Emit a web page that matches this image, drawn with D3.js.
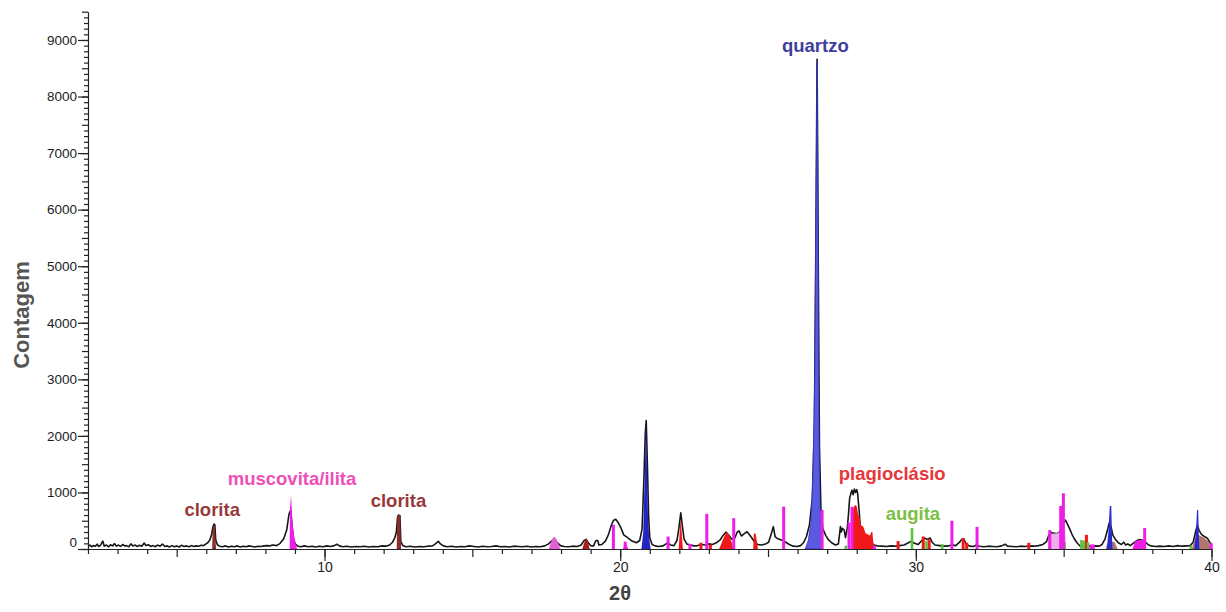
<!DOCTYPE html>
<html>
<head>
<meta charset="utf-8">
<script src="https://cdn.jsdelivr.net/npm/d3@7"></script>
<style>
  html, body { margin: 0; padding: 0; background: #fff; }
  svg { display: block; font-family: "Liberation Sans", Arial, Helvetica, sans-serif; }
</style>
</head>
<body>
<svg id="chart" width="1226" height="612"></svg>
<script>
// Measured diffractogram: [2θ (deg), counts]
const scanPattern = [
  [2.00,45],[2.07,70],[2.12,40],[2.18,60],[2.25,50],[2.31,85],[2.36,45],[2.42,65],[2.50,140],[2.55,50],
  [2.62,70],[2.70,40],[2.76,75],[2.83,55],[2.90,95],[2.96,50],[3.03,70],[3.10,45],[3.17,80],[3.24,55],
  [3.30,60],[3.38,40],[3.45,90],[3.52,55],[3.60,70],[3.66,45],[3.74,65],[3.82,50],[3.90,105],[3.96,60],
  [4.04,75],[4.12,45],[4.20,60],[4.28,40],[4.35,70],[4.44,50],[4.52,85],[4.60,45],[4.68,55],[4.75,35],
  [4.84,60],[4.92,40],[5.00,55],[5.08,35],[5.16,65],[5.25,45],[5.33,55],[5.42,40],[5.50,60],[5.58,45],
  [5.66,55],[5.74,50],[5.82,65],[5.90,60],[5.98,85],[6.05,110],[6.12,160],[6.18,250],[6.22,380],[6.26,440],
  [6.29,430],[6.32,160],[6.38,70],[6.45,50],[6.55,40],[6.65,55],[6.75,35],[6.85,50],[6.95,40],[7.05,55],
  [7.15,35],[7.25,50],[7.35,40],[7.45,55],[7.55,45],[7.65,35],[7.75,50],[7.85,45],[7.95,55],[8.05,60],
  [8.15,55],[8.25,70],[8.38,60],[8.50,100],[8.62,180],[8.72,335],[8.80,620],[8.86,690],[8.90,420],[8.95,170],
  [9.02,80],[9.10,50],[9.20,40],[9.32,55],[9.45,40],[9.58,50],[9.70,35],[9.82,50],[9.95,40],[10.08,55],
  [10.20,45],[10.33,60],[10.42,85],[10.50,55],[10.62,40],[10.75,50],[10.90,35],[11.05,45],[11.20,40],[11.35,50],
  [11.50,35],[11.65,45],[11.80,40],[11.95,55],[12.08,50],[12.20,70],[12.30,120],[12.38,200],[12.43,300],[12.47,560],
  [12.50,600],[12.55,590],[12.58,130],[12.65,60],[12.75,40],[12.90,50],[13.05,35],[13.20,45],[13.35,40],[13.50,50],
  [13.65,55],[13.75,90],[13.85,135],[13.92,90],[14.02,55],[14.15,40],[14.30,50],[14.45,35],[14.60,45],[14.75,40],
  [14.90,55],[15.05,45],[15.20,35],[15.35,50],[15.50,40],[15.65,45],[15.80,55],[15.95,40],[16.10,45],[16.25,35],
  [16.40,50],[16.55,45],[16.70,40],[16.85,50],[17.00,35],[17.15,45],[17.30,40],[17.45,55],[17.58,90],[17.70,150],
  [17.78,160],[17.88,110],[17.98,60],[18.10,45],[18.25,40],[18.40,50],[18.55,45],[18.68,70],[18.78,150],[18.85,170],
  [18.92,110],[19.00,60],[19.10,55],[19.18,150],[19.24,150],[19.28,70],[19.38,80],[19.50,140],[19.60,250],[19.70,420],
  [19.78,510],[19.85,525],[19.93,470],[20.02,380],[20.12,250],[20.25,200],[20.40,140],[20.55,110],[20.66,150],[20.74,350],
  [20.80,1200],[20.85,2050],[20.88,2270],[20.92,1500],[20.96,600],[21.00,200],[21.08,80],[21.18,55],[21.30,45],[21.45,55],
  [21.55,90],[21.62,110],[21.70,70],[21.82,60],[21.92,150],[21.98,350],[22.05,640],[22.10,420],[22.16,180],[22.25,90],
  [22.38,70],[22.50,55],[22.62,60],[22.75,80],[22.88,70],[23.00,90],[23.12,80],[23.25,110],[23.38,160],[23.48,240],
  [23.58,300],[23.68,240],[23.78,170],[23.88,200],[23.96,300],[24.02,320],[24.10,230],[24.15,250],[24.22,280],[24.29,305],
  [24.36,260],[24.46,190],[24.55,120],[24.65,80],[24.78,70],[24.92,90],[25.02,120],[25.10,250],[25.18,395],[25.24,220],
  [25.30,190],[25.40,170],[25.50,150],[25.60,120],[25.72,80],[25.85,50],[25.98,45],[26.10,60],[26.20,110],[26.30,220],
  [26.40,420],[26.50,900],[26.57,2200],[26.62,5500],[26.66,8660],[26.70,5000],[26.74,1800],[26.79,700],[26.85,365],[26.95,240],
  [27.05,160],[27.15,110],[27.28,70],[27.38,90],[27.45,395],[27.48,300],[27.52,365],[27.58,330],[27.62,200],[27.68,365],
  [27.72,600],[27.76,895],[27.80,980],[27.84,1040],[27.88,960],[27.92,1060],[27.96,1000],[28.00,1050],[28.03,985],[28.08,690],
  [28.12,395],[28.20,300],[28.30,230],[28.42,160],[28.58,70],[28.70,55],[28.85,50],[29.00,45],[29.15,55],[29.30,50],
  [29.45,60],[29.60,70],[29.75,110],[29.85,140],[29.95,100],[30.08,80],[30.20,150],[30.30,190],[30.40,170],[30.48,195],
  [30.55,120],[30.65,70],[30.80,60],[30.95,50],[31.10,55],[31.22,75],[31.35,60],[31.48,120],[31.55,170],[31.62,180],
  [31.70,90],[31.82,50],[31.95,45],[32.05,70],[32.15,50],[32.30,40],[32.45,50],[32.60,45],[32.75,40],[32.90,55],
  [33.02,85],[33.10,50],[33.25,45],[33.40,40],[33.55,50],[33.70,45],[33.85,55],[34.00,50],[34.15,60],[34.30,80],
  [34.42,130],[34.50,250],[34.58,290],[34.68,280],[34.78,270],[34.86,300],[34.94,380],[35.00,470],[35.06,510],[35.12,450],
  [35.20,360],[35.28,260],[35.35,190],[35.45,110],[35.57,45],[35.70,50],[35.82,60],[35.95,45],[36.08,55],[36.20,50],
  [36.30,80],[36.40,180],[36.48,330],[36.54,460],[36.60,400],[36.66,250],[36.75,170],[36.85,110],[36.95,80],[37.03,120],
  [37.10,70],[37.17,90],[37.25,60],[37.35,100],[37.45,140],[37.55,165],[37.65,160],[37.75,130],[37.85,80],[37.95,55],
  [38.10,45],[38.25,50],[38.40,45],[38.55,55],[38.70,45],[38.85,60],[39.00,50],[39.15,55],[39.28,60],[39.38,120],
  [39.46,300],[39.52,420],[39.58,330],[39.66,260],[39.76,220],[39.86,190],[39.95,110],[40.00,90]
];

// Quartz reflections (filled profiles): [2θ, counts]
const quartzProfiles = [
  [[20.72,0],[20.78,300],[20.83,1300],[20.87,2250],[20.90,1600],[20.94,600],[20.98,200],[21.03,0]],
  [[26.26,0],[26.36,150],[26.45,450],[26.52,1300],[26.58,3000],[26.63,6500],[26.66,8620],[26.69,6000],[26.71,3000],[26.74,1300],[26.78,400],[26.83,0]],
  [[36.46,0],[36.52,350],[36.56,760],[36.61,760],[36.63,300],[36.65,0]],
  [[39.42,0],[39.48,350],[39.51,690],[39.55,690],[39.57,250],[39.59,0]]
];
const quartzShade = ["#2424c4", "#5a5ae0", "#2a2ad2", "#2a2ad2"];

// Chlorite reflections
const chloriteProfiles = [
  [[6.20,0],[6.22,370],[6.26,420],[6.29,420],[6.33,0]],
  [[12.44,0],[12.46,560],[12.50,600],[12.56,600],[12.59,0]],
  [[18.72,0],[18.80,140],[18.85,190],[18.90,140],[18.97,0]]
];
const chloriteMinorProfiles = [
  [[36.42,0],[36.47,90],[36.56,130],[36.72,130],[36.82,0]],
  [[39.33,0],[39.42,150],[39.55,250],[39.75,200],[39.92,120],[39.98,0]]
];

// Muscovite / illite
const muscoviteProfiles = [
  [[8.82,0],[8.83,700],[8.87,955],[8.91,500],[8.98,200],[9.07,0]],
  [[17.58,0],[17.72,200],[17.78,210],[17.84,180],[17.98,0]],
  [[20.10,0],[20.16,130],[20.22,60],[20.28,0]],
  [[37.33,0],[37.42,140],[37.55,160],[37.72,160],[37.76,0]]
];
const muscoviteBroad = [[34.48,0],[34.50,250],[34.60,270],[34.80,280],[34.95,330],[35.05,330],[35.08,0]];
const muscoviteLines = [
  [19.77,430],[20.17,130],[21.62,220],[22.36,90],[22.93,620],[23.84,545],[25.53,750],[26.83,690],
  [27.74,470],[27.84,745],[28.60,60],[31.22,500],[32.07,390],[34.53,335],[34.90,760],[34.99,985],
  [35.92,80],[36.00,80],[37.74,370],[39.99,100]
];

// Plagioclase
const plagioclaseProfiles = [
  [[21.98,0],[22.03,450],[22.05,510],[22.08,300],[22.12,0]],
  [[23.35,0],[23.50,200],[23.60,305],[23.68,250],[23.78,100],[23.82,0]],
  [[24.50,0],[24.52,270],[24.58,280],[24.62,150],[24.66,0]],
  [[27.86,0],[27.88,720],[27.94,780],[28.00,760],[28.05,600],[28.10,560],[28.14,420],[28.22,400],[28.30,280],[28.45,240],[28.49,300],[28.53,300],[28.56,120],[28.60,0]]
];
const plagioclaseLines = [
  [22.73,110],[23.05,80],[29.40,140],[30.25,220],[30.45,170],[31.60,190],[31.72,110],[33.82,110],[35.77,250]
];

// Augite
const augiteLines = [
  [27.63,60],[29.87,370],[30.36,140],[30.89,90],[35.03,120],[35.60,160],[35.68,150],[35.82,120],[39.30,60]
];

// Phase labels: [text, 2θ, counts, colour]
const phaseLabels = [
  ["clorita", 6.2, 690, "#983838"],
  ["muscovita/ilita", 8.9, 1250, "#ec4fb8"],
  ["clorita", 12.5, 850, "#983838"],
  ["quartzo", 26.6, 8900, "#3e3e9c"],
  ["plagioclásio", 29.2, 1340, "#e8363a"],
  ["augita", 29.9, 620, "#7bc043"]
];

const yMajorTicks = [0,1000,2000,3000,4000,5000,6000,7000,8000,9000];
const xMajorTicks = [10,20,30,40];

const svg = d3.select("#chart");
const x = d3.scaleLinear().domain([2, 40]).range([88, 1211.5]);
const y = d3.scaleLinear().domain([0, 9500]).range([549, 11.7]);

const lineGen = d3.line().x(d => x(d[0])).y(d => y(d[1]));
const areaGen = d3.area().x(d => x(d[0])).y0(y(0)).y1(d => y(d[1]));

// measured curve
svg.append("path")
  .datum(scanPattern)
  .attr("fill", "none")
  .attr("stroke", "#161616")
  .attr("stroke-width", 1.6)
  .attr("stroke-linejoin", "round")
  .attr("d", lineGen);

function drawProfiles(list, fill, stroke) {
  svg.append("g").selectAll("path").data(list).join("path")
    .attr("d", areaGen)
    .attr("fill", fill)
    .attr("stroke", stroke || "none")
    .attr("stroke-width", 0.6);
}
function drawLines(list, colour, w) {
  svg.append("g").selectAll("rect").data(list).join("rect")
    .attr("x", d => x(d[0]) - w / 2)
    .attr("width", w)
    .attr("y", d => y(d[1]))
    .attr("height", d => y(0) - y(d[1]))
    .attr("fill", colour);
}

drawProfiles([muscoviteBroad], "#efaeea");
drawProfiles(chloriteMinorProfiles, "#b0766e");
drawProfiles(chloriteProfiles, (d, i) => i === 2 ? "#a81c1c" : "#8a2c2c");
drawProfiles(muscoviteProfiles, (d, i) => i === 1 ? "#e060d4" : "#ee1ee8");
drawProfiles(plagioclaseProfiles, "#f01818");
svg.append("g").selectAll("path").data(quartzProfiles).join("path")
  .attr("d", areaGen)
  .attr("fill", (d, i) => quartzShade[i])
  .attr("stroke", (d, i) => i === 1 ? "#3434c8" : "none")
  .attr("stroke-width", 0.8);
drawLines(plagioclaseLines, "#f01818", 3);
drawLines(augiteLines, "#5cc43c", 2.6);
drawLines(muscoviteLines, "#ee1ee8", 3);

// axes
const axisColour = "#222";
const yAxis = svg.append("g").attr("transform", "translate(88,0)");
yAxis.call(d3.axisLeft(y).tickValues(d3.range(0, 9501, 100)).tickSize(4).tickSizeOuter(0).tickFormat(""));
yAxis.call(g => g.selectAll(".tick line").filter(d => d % 500 === 0).attr("x2", -6));
const yMajor = svg.append("g").attr("transform", "translate(88,0)")
  .call(d3.axisLeft(y).tickValues(yMajorTicks).tickSize(10).tickPadding(1).tickSizeOuter(0).tickFormat(d3.format("d")));
yMajor.select(".domain").remove();
yMajor.selectAll("text")
  .attr("font-size", 13.5)
  .attr("font-family", "Liberation Sans, Arial, sans-serif")
  .attr("fill", "#1c1c1c")
  .attr("dy", d => d === 0 ? "-0.15em" : "0.32em");

const xAxis = svg.append("g").attr("transform", "translate(0,549)");
xAxis.call(d3.axisBottom(x).tickValues(d3.range(2, 41, 1)).tickSize(5).tickSizeOuter(0).tickFormat(""));
xAxis.call(g => g.selectAll(".tick line").filter(d => d % 5 === 0).attr("y2", 8));
const xMajor = svg.append("g").attr("transform", "translate(0,549)")
  .call(d3.axisBottom(x).tickValues(xMajorTicks).tickSize(12).tickPadding(1).tickSizeOuter(0).tickFormat(d3.format("d")));
xMajor.select(".domain").remove();
xMajor.selectAll("text")
  .attr("font-size", 14)
  .attr("font-family", "Liberation Sans, Arial, sans-serif")
  .attr("fill", "#1c1c1c");

svg.selectAll(".domain, .tick line").attr("stroke", axisColour).attr("stroke-width", 1.2);

// axis titles
svg.append("text")
  .attr("transform", "translate(21,315) rotate(-90)")
  .attr("text-anchor", "middle")
  .attr("dominant-baseline", "central")
  .attr("font-size", 22)
  .attr("font-weight", "bold")
  .attr("fill", "#555")
  .text("Contagem");
svg.append("text")
  .attr("x", 620).attr("y", 593)
  .attr("text-anchor", "middle")
  .attr("dominant-baseline", "central")
  .attr("font-size", 20)
  .attr("font-weight", "bold")
  .attr("fill", "#444")
  .text("2θ");

// phase labels
svg.append("g").selectAll("text").data(phaseLabels).join("text")
  .attr("x", d => x(d[1]))
  .attr("y", d => y(d[2]))
  .attr("text-anchor", "middle")
  .attr("dominant-baseline", "central")
  .attr("font-size", 18.5)
  .attr("font-weight", "bold")
  .attr("fill", d => d[3])
  .text(d => d[0]);
</script>
</body>
</html>
